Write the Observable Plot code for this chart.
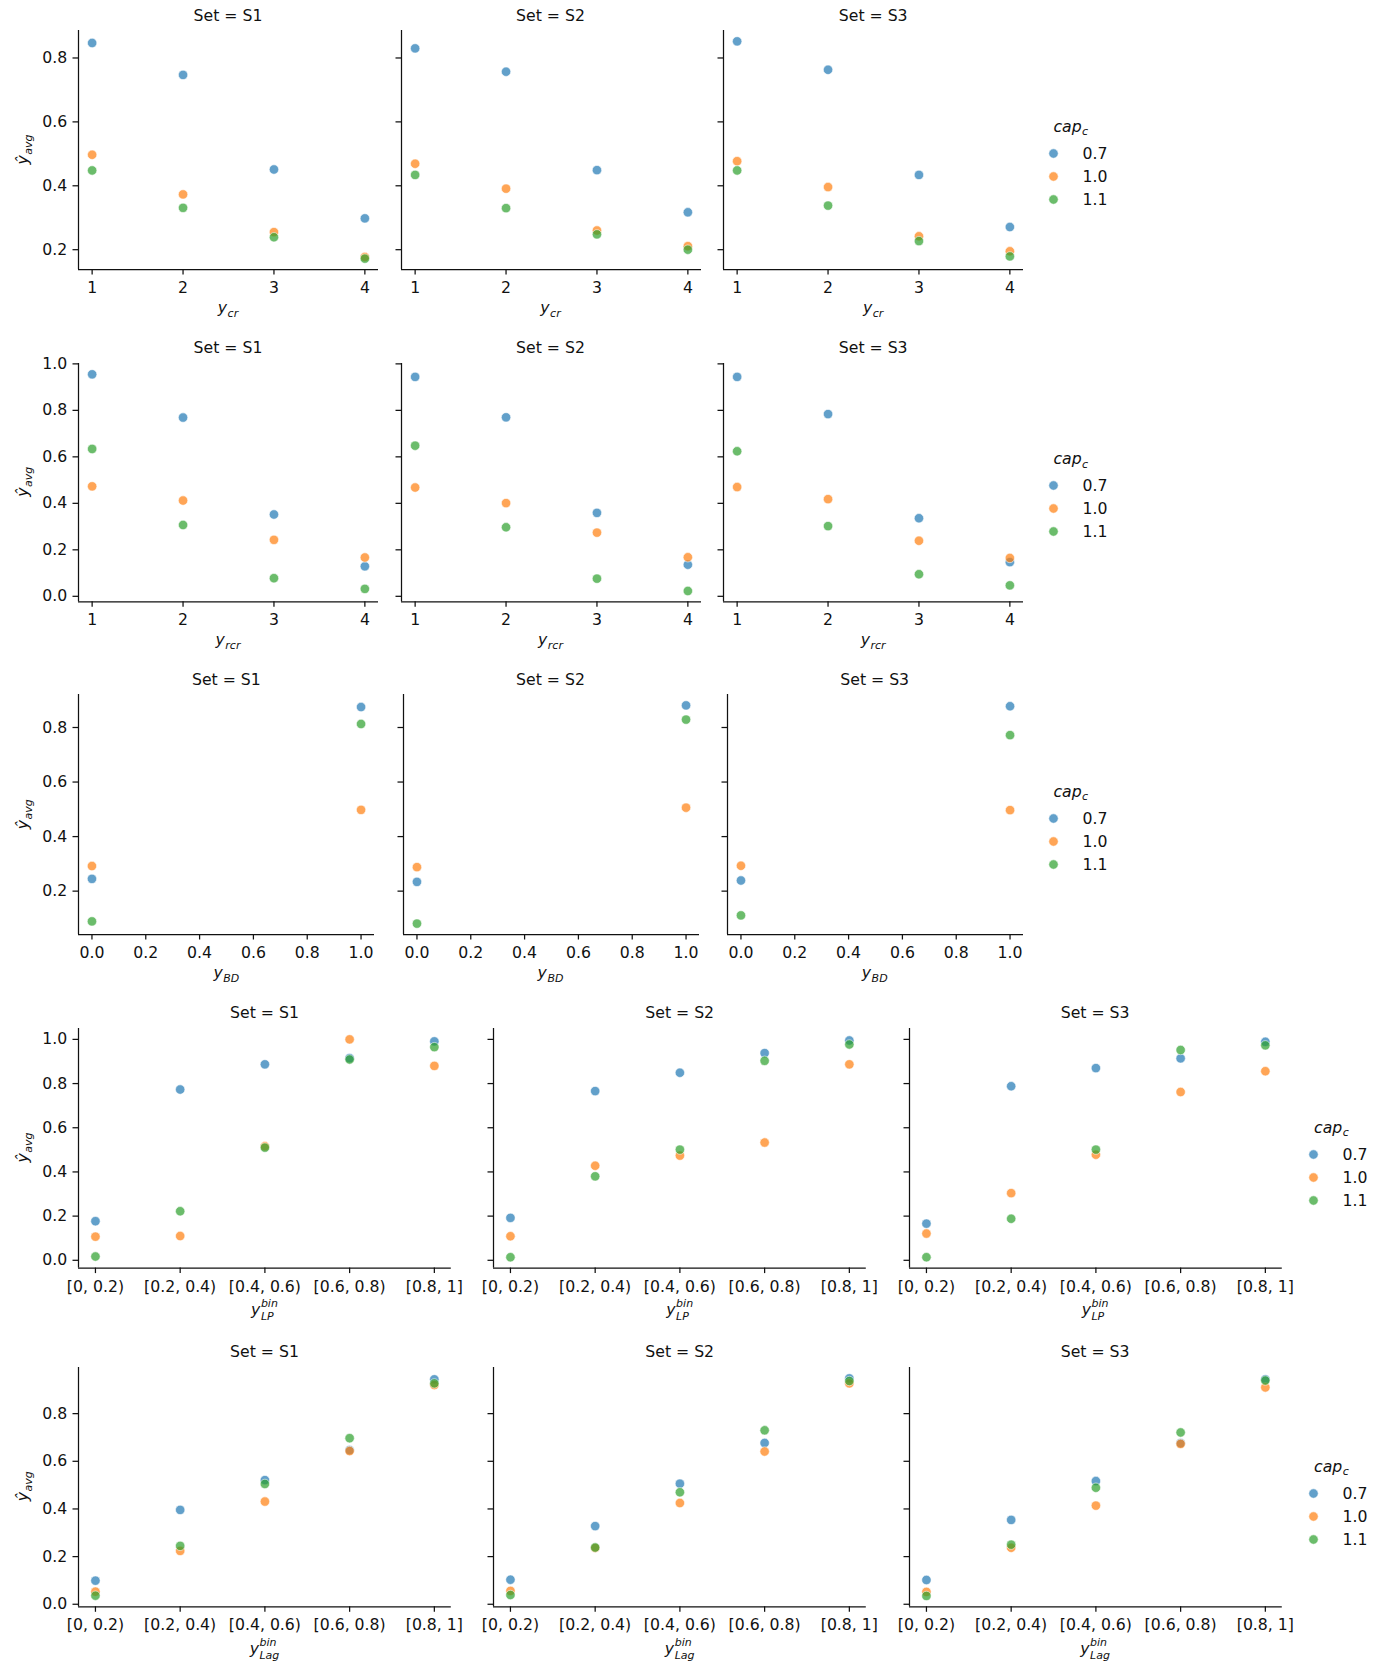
<!DOCTYPE html>
<html><head><meta charset="utf-8">
<script src="https://cdn.jsdelivr.net/npm/d3@7"></script>
<script src="https://cdn.jsdelivr.net/npm/@observablehq/plot@0.6"></script>
<style>
html,body{margin:0;padding:0;background:#fff;}
#chart{position:relative;width:1387px;height:1662px;overflow:hidden;font-family:"DejaVu Sans",sans-serif;}
</style></head><body><div id="chart"></div>
<script>
// ---------------- data ----------------
const sets = ["S1", "S2", "S3"];
const caps = ["0.7", "1.0", "1.1"];
const capColors = ["#1f77b4", "#ff7f0e", "#2ca02c"];

const xCount = [1, 2, 3, 4];              // y_cr and y_rcr values
const xBD = [0, 1];                       // y_BD values
const bins = ["[0, 0.2)", "[0.2, 0.4)", "[0.4, 0.6)", "[0.6, 0.8)", "[0.8, 1]"];
const binIdx = [0, 1, 2, 3, 4];

const ticksBD = [0, 0.2, 0.4, 0.6, 0.8, 1.0];
const yTicksCr = [0.2, 0.4, 0.6, 0.8];
const yTicksRcr = [0.0, 0.2, 0.4, 0.6, 0.8, 1.0];
const yTicksBD = [0.2, 0.4, 0.6, 0.8];
const yTicksLP = [0.0, 0.2, 0.4, 0.6, 0.8, 1.0];
const yTicksLag = [0.0, 0.2, 0.4, 0.6, 0.8];

// values: [set][cap][x]
const valsCr = [
  [[0.847, 0.747, 0.451, 0.298], [0.497, 0.373, 0.255, 0.177], [0.448, 0.331, 0.239, 0.172]],
  [[0.830, 0.757, 0.449, 0.317], [0.469, 0.391, 0.260, 0.211], [0.434, 0.330, 0.248, 0.200]],
  [[0.852, 0.763, 0.434, 0.271], [0.477, 0.396, 0.242, 0.195], [0.448, 0.338, 0.227, 0.179]]
];
const valsRcr = [
  [[0.955, 0.769, 0.352, 0.129], [0.473, 0.412, 0.243, 0.167], [0.634, 0.307, 0.078, 0.032]],
  [[0.944, 0.770, 0.359, 0.136], [0.468, 0.401, 0.274, 0.168], [0.648, 0.297, 0.076, 0.023]],
  [[0.944, 0.784, 0.336, 0.147], [0.470, 0.418, 0.239, 0.165], [0.624, 0.302, 0.095, 0.047]]
];
const valsBD = [
  [[0.245, 0.875], [0.292, 0.498], [0.089, 0.813]],
  [[0.234, 0.881], [0.288, 0.506], [0.081, 0.829]],
  [[0.239, 0.878], [0.293, 0.497], [0.111, 0.772]]
];
const valsLP = [
  [[0.177, 0.773, 0.887, 0.915, 0.991], [0.107, 0.110, 0.516, 1.000, 0.880], [0.017, 0.222, 0.510, 0.909, 0.965]],
  [[0.192, 0.766, 0.849, 0.938, 0.995], [0.109, 0.428, 0.474, 0.533, 0.887], [0.014, 0.380, 0.501, 0.903, 0.977]],
  [[0.166, 0.788, 0.870, 0.914, 0.989], [0.121, 0.304, 0.478, 0.762, 0.856], [0.014, 0.188, 0.501, 0.952, 0.973]]
];
const valsLag = [
  [[0.099, 0.396, 0.521, 0.647, 0.944], [0.053, 0.224, 0.431, 0.643, 0.920], [0.036, 0.245, 0.505, 0.697, 0.927]],
  [[0.103, 0.328, 0.506, 0.677, 0.948], [0.056, 0.236, 0.425, 0.641, 0.927], [0.039, 0.238, 0.470, 0.730, 0.937]],
  [[0.102, 0.354, 0.517, 0.676, 0.944], [0.052, 0.237, 0.414, 0.673, 0.910], [0.035, 0.250, 0.489, 0.721, 0.939]]
];

// ---------------- layout ----------------
const FS = 15.7, SUB = 11, INK = "#111";
const fmt1 = d3.format(".1f");
const rowsCfg = [
  {vals: valsCr, xs: xCount, xTicks: xCount, xFmt: d => String(d), yTicks: yTicksCr,
   top: 30, bottom: 269, lefts: [78, 400.5, 723.2], w: 300, xlab: ["y", "cr", null], labBase: 44, legX: 1052.7, legBase: 131.7},
  {vals: valsRcr, xs: xCount, xTicks: xCount, xFmt: d => String(d), yTicks: yTicksRcr,
   top: 362.7, bottom: 601, lefts: [78, 400.5, 723.2], w: 300, xlab: ["y", "rcr", null], labBase: 44, legX: 1052.7, legBase: 464.1},
  {vals: valsBD, xs: xBD, xTicks: ticksBD, xFmt: fmt1, yTicks: yTicksBD,
   top: 694.3, bottom: 934.3, lefts: [78.4, 402.5, 726.7], w: 296, xlab: ["y", "BD", null], labBase: 44, legX: 1052.7, legBase: 796.5},
  {vals: valsLP, xs: binIdx, xTicks: binIdx, xFmt: i => bins[i], yTicks: yTicksLP,
   top: 1027.7, bottom: 1267.3, lefts: [78.1, 493.3, 908.7], w: 372.8, xlab: ["y", "LP", "bin"], labBase: 47.7, legX: 1313.3, legBase: 1132.7},
  {vals: valsLag, xs: binIdx, xTicks: binIdx, xFmt: i => bins[i], yTicks: yTicksLag,
   top: 1366.7, bottom: 1606, lefts: [78.1, 493.3, 908.7], w: 372.8, xlab: ["y", "Lag", "bin"], labBase: 47.7, legX: 1313.3, legBase: 1471.6}
];

function padExtent(arr, f = 0.05) {
  const [a, b] = d3.extent(arr);
  const m = (b - a) * f;
  return [a - m, b + m];
}

const chart = document.getElementById("chart");
const baseStyle = {fontFamily: "DejaVu Sans", fontSize: FS + "px", color: INK, background: "transparent", overflow: "visible"};
const dotOpts = {r: 4.7, fillOpacity: 0.7, stroke: "white", strokeWidth: 0.8, strokeOpacity: 0.7};

rowsCfg.forEach(cfg => {
  const xDom = padExtent(cfg.xs);
  const yDom = padExtent(cfg.vals.flat(2));
  sets.forEach((s, si) => {
    const data = [];
    caps.forEach((c, ci) => cfg.vals[si][ci].forEach((v, k) => data.push({x: cfg.xs[k], y: v, cap: c})));
    const mL = 75, mR = 40, mT = 20, mB = 60;
    const h = cfg.bottom - cfg.top;
    const p = Plot.plot({
      width: cfg.w + mL + mR, height: h + mT + mB,
      marginLeft: mL, marginRight: mR, marginTop: mT, marginBottom: mB,
      style: baseStyle,
      x: {domain: xDom},
      y: {domain: yDom},
      color: {domain: caps, range: capColors},
      marks: [
        Plot.axisX({ticks: cfg.xTicks, tickFormat: cfg.xFmt, tickSize: 5.5, tickPadding: 7, strokeWidth: 1.25, label: null, fontSize: FS}),
        Plot.axisY({ticks: cfg.yTicks, tickFormat: si === 0 ? fmt1 : () => "", tickSize: 5.5, tickPadding: 5.8, strokeWidth: 1.25, label: null, fontSize: FS}),
        Plot.ruleX([xDom[0]], {stroke: INK, strokeWidth: 1.25}),
        Plot.ruleY([yDom[0]], {stroke: INK, strokeWidth: 1.25}),
        Plot.dot(data, {x: "x", y: "y", fill: "cap", ...dotOpts})
      ]
    });
    p.style.position = "absolute";
    p.style.left = (cfg.lefts[si] - mL) + "px";
    p.style.top = (cfg.top - mT) + "px";
    chart.appendChild(p);
  });

  // legend (vertical)
  const leg = Plot.plot({
    width: 90, height: 67, marginLeft: 10, marginRight: 0, marginTop: 10, marginBottom: 10,
    style: baseStyle,
    y: {type: "point", domain: caps, padding: 0, axis: null},
    color: {domain: caps, range: capColors},
    marks: [
      Plot.dot(caps, {y: d => d, fill: d => d, frameAnchor: "left", ...dotOpts}),
      Plot.text(caps, {y: d => d, text: d => d, frameAnchor: "left", dx: 29, textAnchor: "start", fontSize: FS, fill: INK})
    ]
  });
  leg.style.position = "absolute";
  leg.style.left = (cfg.legX - 10) + "px";
  leg.style.top = (cfg.legBase + 20.3 - 10) + "px";
  chart.appendChild(leg);
});

// ---------------- text overlay ----------------
const ov = d3.select(chart).append("svg")
  .attr("width", 1387).attr("height", 1662)
  .style("position", "absolute").style("left", "0px").style("top", "0px")
  .style("overflow", "visible")
  .attr("font-family", "DejaVu Sans").attr("fill", INK);

function mathText(main, sub, sup) {
  const g = ov.append("g");
  const t = g.append("text").attr("font-size", FS).attr("font-style", "italic").text(main);
  const w = t.node().getComputedTextLength();
  let w2 = 0;
  if (sup) {
    const s = g.append("text").attr("x", w + 0.5).attr("y", -8).attr("font-size", SUB).attr("font-style", "italic").text(sup);
    w2 = Math.max(w2, s.node().getComputedTextLength());
  }
  if (sub) {
    const s = g.append("text").attr("x", w + 0.5).attr("y", sup ? 5 : 3.5).attr("font-size", SUB).attr("font-style", "italic").text(sub);
    w2 = Math.max(w2, s.node().getComputedTextLength());
  }
  return {g, width: w + 0.5 + w2};
}

rowsCfg.forEach(cfg => {
  const cy = (cfg.top + cfg.bottom) / 2;
  sets.forEach((s, si) => {
    const cx = cfg.lefts[si] + cfg.w / 2;
    ov.append("text").attr("x", cx).attr("y", cfg.top - 9.3).attr("text-anchor", "middle")
      .attr("font-size", FS).text("Set = " + s);
    const xl = mathText(cfg.xlab[0], cfg.xlab[1], cfg.xlab[2]);
    xl.g.attr("transform", `translate(${cx - xl.width / 2},${cfg.bottom + cfg.labBase})`);
  });
  // y label
  const yl = mathText("\u0177", "avg", null);
  yl.g.attr("transform", `translate(28,${cy}) rotate(-90) translate(${-yl.width / 2},0)`);
  // legend title
  const lt = mathText("cap", "c", null);
  lt.g.attr("transform", `translate(${cfg.legX + 0.7},${cfg.legBase})`);
});
</script></body></html>
